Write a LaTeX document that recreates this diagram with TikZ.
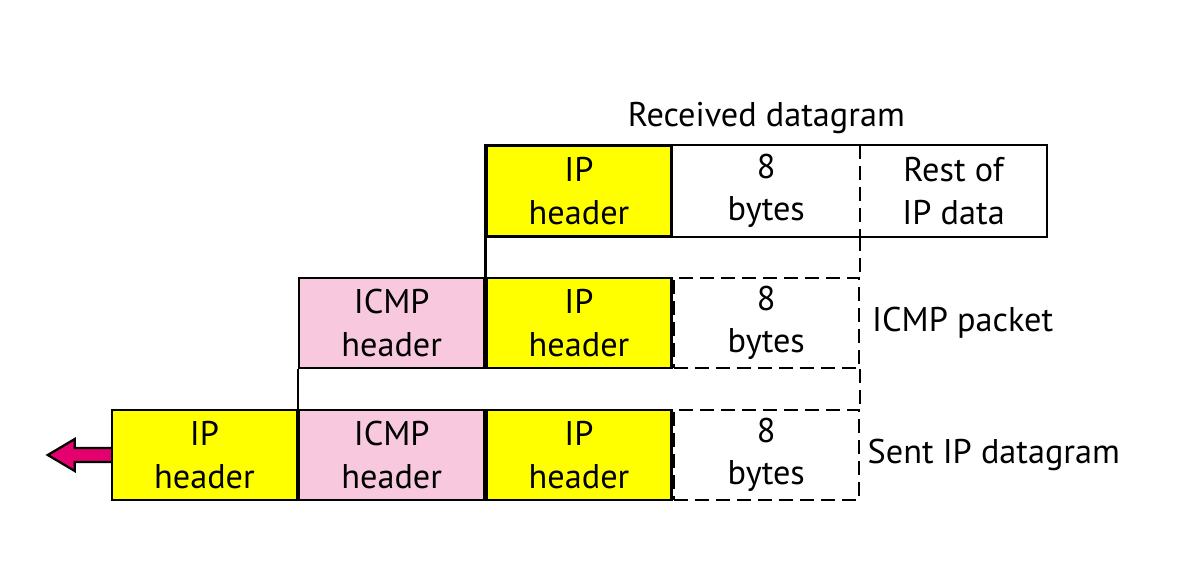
\documentclass[tikz,border=0pt]{standalone}
\usepackage{fontspec}
\setmainfont{PT Sans}
\usetikzlibrary{positioning}
\definecolor{ipyellow}{RGB}{255,255,0}
\definecolor{icmppink}{RGB}{248,200,222}
\definecolor{arrowpink}{RGB}{228,0,110}
\begin{document}
\begin{tikzpicture}[
        x=0.2mm, y=-0.2mm,
        field/.style={rectangle, minimum width=37mm, minimum height=18mm, inner sep=0pt,
            align=center, font=\fontsize{19.5}{24}\selectfont, line width=1.3pt},
        ip_field/.style={field, draw, fill=ipyellow},
        icmp_field/.style={field, draw, fill=icmppink},
        data_field/.style={field, draw, dash pattern=on 2.8mm off 1.4mm},
        plain_field/.style={field},
        link/.style={line width=1.3pt},
        dashed_link/.style={link, dash pattern=on 2.8mm off 1.4mm},
        caption/.style={font=\fontsize{19.5}{24}\selectfont}
    ]
        \useasboundingbox (0,0) rectangle (1204,581);
        % Received datagram
        \node[ip_field] (r1ip) at (579,191) {IP\\header};
        \node[plain_field, right=0pt of r1ip] (r1bytes) {8\\bytes};
        \node[plain_field, right=0pt of r1bytes] (r1rest) {Rest of\\IP data};
        \draw[link] (r1ip.north west) rectangle (r1rest.south east);
        \draw[dashed_link] (r1bytes.north east) -- (r1bytes.south east);
        \node[caption, above=1mm of r1bytes] (r1cap) {Received datagram};
        % ICMP packet
        \node[ip_field] (r2ip) at (579,323) {IP\\header};
        \node[icmp_field, left=0pt of r2ip] (r2icmp) {ICMP\\header};
        \node[data_field, right=0pt of r2ip] (r2bytes) {8\\bytes};
        \node[caption, anchor=west, right=1.2mm of r2bytes] (r2cap) {ICMP packet};
        % Sent IP datagram
        \node[ip_field] (r3ipold) at (579,455) {IP\\header};
        \node[icmp_field, left=0pt of r3ipold] (r3icmp) {ICMP\\header};
        \node[ip_field, left=0pt of r3icmp] (r3ip) {IP\\header};
        \node[data_field, right=0pt of r3ipold] (r3bytes) {8\\bytes};
        \node[caption, anchor=west, right=0.3mm of r3bytes] (r3cap) {Sent IP datagram};
        % links between rows
        \draw[link] (r1ip.south west) -- (r2ip.north west);
        \draw[dashed_link] (r1bytes.south east) -- (r2bytes.north east);
        \draw[link] (r2icmp.south west) -- (r3icmp.north west);
        \draw[dashed_link] (r2bytes.south east) -- (r3bytes.north east);
        % outgoing arrow
        \draw[link, fill=arrowpink] (r3ip.west) ++(0,-7) -- ++(-36,0) -- ++(0,-9)
            -- ++(-27,16) -- ++(27,16) -- ++(0,-9) -- ++(36,0);
\end{tikzpicture}
\end{document}
